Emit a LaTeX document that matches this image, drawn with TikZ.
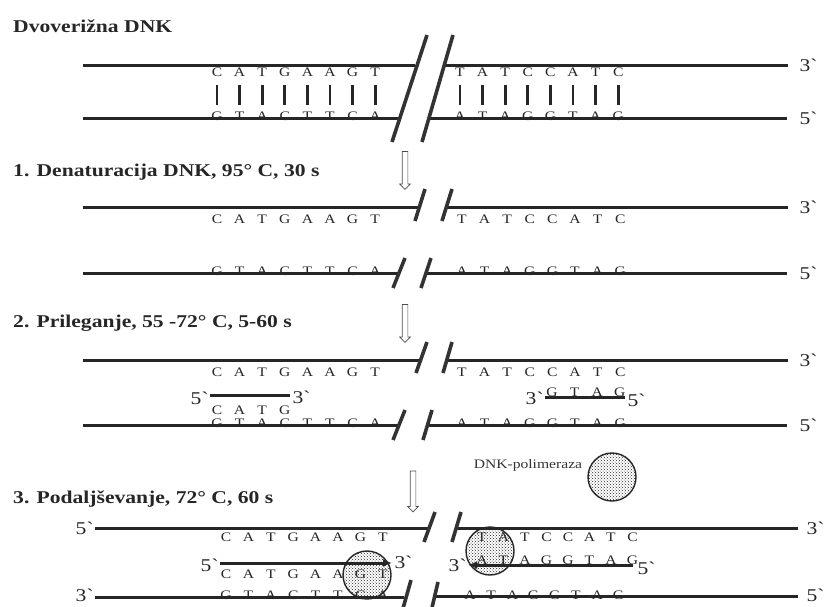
\documentclass[tikz,border=0pt]{standalone}
\usepackage{fontspec}
\setmainfont{Liberation Serif}[FakeStretch=1.2]
\usetikzlibrary{arrows.meta, positioning, patterns, shapes.arrows}

\newcommand\grv{\textasciigrave}
% one row of bases: name, first x, spacing, y, anchor, letters
\newcommand\baserow[6]{%
  \foreach \b [count=\i] in {#6}
    \node[base, anchor=#5] (#1-\i) at ({#2+#3*(\i-1)}, #4) {\b};%
}

\begin{document}
\begin{tikzpicture}[
  x=1pt, y=-1pt,
  strand/.style = {line width=3pt, draw=black!85},
  cut/.style    = {line width=3.6pt, draw=black!80},
  pair/.style   = {line width=2.8pt, draw=black!85},
  base/.style   = {inner sep=0pt, text=black!85, font=\fontsize{13}{13}\selectfont},
  head/.style   = {inner sep=0pt, anchor=base west, text=black!85,
                   font=\fontsize{18}{20}\selectfont\bfseries},
  dirn/.style   = {inner sep=1pt, text=black!85, font=\fontsize{18}{18}\selectfont},
  plab/.style   = {inner sep=0pt, text=black!80, font=\fontsize{13}{13}\selectfont},
  stage/.style  = {single arrow, draw=black!70, line width=0.7pt, rotate=-90,
                   inner sep=2.5pt, minimum height=38pt, single arrow head extend=2.5pt},
  enzyme/.style = {circle, draw=black!85, line width=1.4pt, minimum size=48pt,
                   pattern=crosshatch dots, pattern color=black!85},
  newstrand/.style = {strand, -{Latex[length=9pt, width=8pt]}},
]
  \clip (0,0) rectangle (824,606);

  % double-stranded DNA
  \node[head] (h0) at (13,32) {Dvoverižna DNK};
  \draw[strand] (83,65) -- (415,65);
  \draw[strand] (444,65) -- (788,65) node[dirn, right=9pt] (e0t) {3\grv};
  \draw[strand] (83,118) -- (400,118);
  \draw[strand] (429,118) -- (787,118) node[dirn, right=10pt] (e0b) {5\grv};
  \draw[cut] (427,35) -- (392,142);
  \draw[cut] (453,35) -- (422,142);
  \baserow{t0a}{217}{22.6}{68}{north}{C,A,T,G,A,A,G,T}
  \baserow{b0a}{217}{22.6}{120}{base}{G,T,A,C,T,T,C,A}
  \baserow{t0b}{460}{22.6}{68}{north}{T,A,T,C,C,A,T,C}
  \baserow{b0b}{460}{22.6}{120}{base}{A,T,A,G,G,T,A,G}
  \foreach \i in {1,...,8} {
    \draw[pair] ([yshift=-8pt]t0a-\i.south) -- ([yshift=6pt]b0a-\i.north);
    \draw[pair] ([yshift=-8pt]t0b-\i.south) -- ([yshift=6pt]b0b-\i.north);
  }

  % 1. denaturation
  \node[head] (h1) at (13,176) {1. Denaturacija DNK, 95° C, 30 s};
  \node[stage] (a1) at (405,169) {};
  \draw[strand] (83,207) -- (419,207);
  \draw[strand] (446,207) -- (788,207) node[dirn, right=9pt] (e1t) {3\grv};
  \draw[cut] (425,189) -- (415,221);
  \draw[cut] (452,189) -- (442,221);
  \baserow{t1a}{217}{22.6}{215}{north}{C,A,T,G,A,A,G,T}
  \baserow{t1b}{462}{22.6}{215}{north}{T,A,T,C,C,A,T,C}
  \draw[strand] (83,273) -- (399,273);
  \draw[strand] (426,273) -- (787,273) node[dirn, right=10pt] (e1b) {5\grv};
  \draw[cut] (405,258) -- (393,288);
  \draw[cut] (431,258) -- (421,288);
  \baserow{b1a}{217}{22.6}{275}{base}{G,T,A,C,T,T,C,A}
  \baserow{b1b}{462}{22.6}{275}{base}{A,T,A,G,G,T,A,G}

  % 2. annealing
  \node[head] (h2) at (13,327) {2. Prileganje, 55 -72° C, 5-60 s};
  \node[stage] (a2) at (405,322) {};
  \draw[strand] (83,360) -- (421,360);
  \draw[strand] (447,360) -- (788,360) node[dirn, right=9pt] (e2t) {3\grv};
  \draw[cut] (427,342) -- (416,373);
  \draw[cut] (452,342) -- (443,373);
  \baserow{t2a}{217}{22.6}{368}{north}{C,A,T,G,A,A,G,T}
  \baserow{t2b}{462}{22.6}{368}{north}{T,A,T,C,C,A,T,C}
  % primers
  \draw[strand] (210,395) node[dirn, left, yshift=-3pt] (p2a) {5\grv}
    -- (290,395) node[dirn, right, yshift=-2pt] (p2b) {3\grv};
  \baserow{p2l}{217}{22.6}{406}{north}{C,A,T,G}
  \draw[strand] (545,397) node[dirn, left, yshift=-1pt] (p2c) {3\grv}
    -- (625,397) node[dirn, right, yshift=-3pt] (p2d) {5\grv};
  \baserow{p2r}{552}{22.6}{396}{base}{G,T,A,G}
  \draw[strand] (83,425) -- (399,425);
  \draw[strand] (428,425) -- (787,425) node[dirn, right=10pt] (e2b) {5\grv};
  \draw[cut] (405,410) -- (393,440);
  \draw[cut] (432,410) -- (423,440);
  \baserow{b2a}{217}{22.6}{427}{base}{G,T,A,C,T,T,C,A}
  \baserow{b2b}{462}{22.6}{427}{base}{A,T,A,G,G,T,A,G}

  % 3. extension
  \node[head] (h3) at (13,503) {3. Podaljševanje, 72° C, 60 s};
  \node[stage, minimum height=41pt] (a3) at (413,490) {};
  \node[enzyme] (pol0) at (612,477) {};
  \node[plab, left=5pt of pol0, yshift=12pt] (plab0) {DNK-polimeraza};
  \draw[strand] (95,528) node[dirn, left] (e3a) {5\grv} -- (429,528);
  \draw[strand] (456,528) -- (798,528) node[dirn, right=6pt] (e3b) {3\grv};
  \draw[cut] (435,512) -- (424,542);
  \draw[cut] (461,512) -- (452,542);
  \baserow{t3a}{226}{22.4}{533}{north}{C,A,T,G,A,A,G,T}
  \baserow{t3b}{482}{21.5}{533}{north}{T,A,T,C,C,A,T,C}
  % new strands
  \draw[newstrand] (220,563) node[dirn, left, yshift=-2pt] (n3a) {5\grv}
    -- (392,563) node[dirn, right, yshift=1pt] (n3b) {3\grv};
  \baserow{m3a}{226}{22.4}{570}{north}{C,A,T,G,A,A,G,T}
  \draw[newstrand] (633,565) node[dirn, right=2pt, yshift=-3pt] (n3c) {5\grv}
    -- (468,565) node[dirn, left] (n3d) {3\grv};
  \baserow{m3b}{482}{21.5}{564}{base}{A,T,A,G,G,T,A,G}
  \draw[strand] (95,597) node[dirn, left, yshift=2pt] (e3c) {3\grv} -- (404,597);
  \draw[strand] (434,596) -- (798,596) node[dirn, right=6pt, yshift=1pt] (e3d) {5\grv};
  \draw[cut] (411,580) -- (402,612);
  \draw[cut] (438,582) -- (431,612);
  \baserow{b3a}{226}{22.4}{599}{base}{G,T,A,C,T,T,C,A}
  \baserow{b3b}{470}{21.2}{599}{base}{A,T,A,G,G,T,A,G}
  \node[enzyme] (pol1) at (367,575) {};
  \node[enzyme] (pol2) at (490,551) {};
\end{tikzpicture}
\end{document}
